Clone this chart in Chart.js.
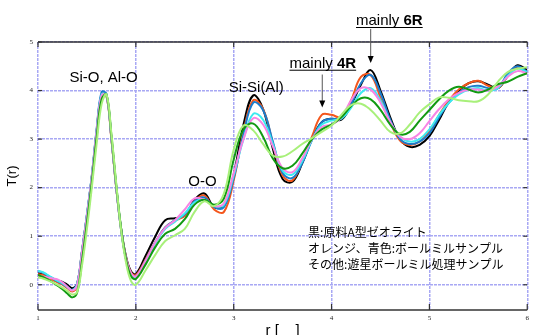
<!DOCTYPE html>
<html>
<head>
<meta charset="utf-8">
<script src="https://cdn.jsdelivr.net/npm/chart.js@4.4.0/dist/chart.umd.min.js"></script>
<style>
html, body { margin: 0; padding: 0; background: #fff; }
</style>
</head>
<body>
<canvas id="myChart" width="533" height="335"></canvas>
<script>
// r values (fine step around the first peak)
const r = [1.00,1.05,1.10,1.15,1.20,1.25,1.30,1.35,1.40,1.45,1.50,1.55,1.60,1.65,1.70,1.75,1.80,1.85,1.90,1.95,2.00,
  2.1,2.2,2.3,2.4,2.5,2.6,2.7,2.8,2.9,3.0,
  3.1,3.2,3.3,3.4,3.5,3.6,3.7,3.8,3.9,4.0,
  4.1,4.2,4.3,4.4,4.5,4.6,4.7,4.8,4.9,5.0,
  5.1,5.2,5.3,5.4,5.5,5.6,5.7,5.8,5.9,6.0];

const tBlack = [0.24,0.21,0.16,0.12,0.09,0.06,0.00,-0.07,0.02,0.70,1.43,2.22,3.18,3.92,3.90,3.02,2.00,1.15,0.58,0.28,0.22,
  0.60,1.00,1.33,1.37,1.42,1.75,1.88,1.60,1.63,2.27,
  3.30,3.90,3.62,2.80,2.18,2.12,2.50,3.00,3.35,3.42,
  3.40,3.70,4.12,4.42,4.00,3.45,3.00,2.84,2.88,3.06,
  3.40,3.77,4.00,4.15,4.19,4.12,4.05,4.30,4.52,4.42];
const tOrange = [0.22,0.20,0.15,0.10,0.05,0.00,-0.07,-0.14,-0.02,0.66,1.40,2.22,3.16,3.90,3.88,3.00,1.98,1.12,0.55,0.25,0.20,
  0.52,0.88,1.18,1.32,1.42,1.72,1.84,1.55,1.50,2.15,
  3.15,3.80,3.62,2.92,2.25,2.15,2.55,3.05,3.50,3.50,
  3.45,3.80,4.28,4.32,3.85,3.35,2.97,2.88,2.95,3.16,
  3.50,3.80,4.02,4.15,4.20,4.10,4.05,4.30,4.48,4.35];
const tBlue = [0.28,0.25,0.19,0.13,0.07,0.02,-0.05,-0.10,0.02,0.70,1.45,2.25,3.22,3.97,3.93,3.03,2.00,1.12,0.52,0.22,0.17,
  0.50,0.88,1.18,1.33,1.45,1.72,1.80,1.60,1.60,2.20,
  3.10,3.75,3.60,2.95,2.30,2.20,2.50,2.98,3.35,3.42,
  3.42,3.72,4.15,4.32,3.95,3.40,3.00,2.90,2.95,3.12,
  3.45,3.75,3.95,4.07,4.10,4.05,4.05,4.35,4.50,4.38];
const tCyan = [0.29,0.26,0.20,0.14,0.08,0.03,-0.05,-0.11,0.01,0.68,1.44,2.25,3.20,3.92,3.90,3.03,2.00,1.12,0.52,0.22,0.15,
  0.47,0.85,1.15,1.30,1.47,1.70,1.75,1.62,1.65,2.25,
  3.00,3.52,3.40,2.90,2.35,2.27,2.55,2.98,3.30,3.38,
  3.42,3.65,3.95,4.05,3.80,3.35,3.05,2.95,3.00,3.20,
  3.50,3.75,3.92,4.02,4.05,4.00,4.05,4.30,4.45,4.38];
const tPink = [0.18,0.17,0.15,0.13,0.11,0.05,-0.04,-0.12,0.00,0.68,1.42,2.23,3.18,3.90,3.90,3.03,2.00,1.12,0.55,0.25,0.17,
  0.50,0.88,1.17,1.33,1.55,1.78,1.75,1.62,1.68,2.30,
  3.00,3.43,3.30,2.85,2.40,2.32,2.60,3.00,3.25,3.30,
  3.45,3.80,4.05,4.02,3.75,3.35,3.05,3.00,3.12,3.37,
  3.62,3.82,3.95,4.02,4.02,4.00,4.08,4.28,4.40,4.35];
const tGreen = [0.20,0.16,0.11,0.05,-0.02,-0.09,-0.18,-0.26,-0.16,0.50,1.28,2.12,3.05,3.82,3.92,3.08,2.05,1.15,0.52,0.18,0.12,
  0.42,0.78,1.05,1.15,1.35,1.65,1.75,1.65,1.78,2.58,
  3.20,3.32,3.05,2.60,2.40,2.45,2.70,3.00,3.20,3.30,
  3.45,3.68,3.84,3.82,3.60,3.30,3.10,3.15,3.38,3.60,
  3.82,4.00,4.08,4.02,3.96,4.02,4.13,4.18,4.28,4.36];
const tLight = [0.15,0.13,0.09,0.05,0.00,-0.06,-0.13,-0.20,-0.15,0.40,1.15,2.00,2.92,3.72,3.92,3.12,2.08,1.12,0.45,0.08,0.00,
  0.30,0.62,0.90,1.02,1.15,1.50,1.72,1.62,1.88,2.78,
  3.28,3.18,2.90,2.66,2.64,2.75,2.90,3.02,3.15,3.28,
  3.50,3.70,3.73,3.60,3.38,3.15,3.12,3.30,3.55,3.72,
  3.86,3.85,3.80,3.78,3.78,3.92,4.18,4.38,4.45,4.48];

const xTicks = [1, 2, 3, 4, 5, 6];
const yTicks = [0, 1, 2, 3, 4, 5];

const series = [
  { data: tBlack, color: '#000000' },
  { data: tOrange, color: '#f4561c' },
  { data: tBlue, color: '#1c7ccc' },
  { data: tCyan, color: '#3ceaf0' },
  { data: tPink, color: '#f884e4' },
  { data: tGreen, color: '#129a12' },
  { data: tLight, color: '#a8f07a' }
];

const gridColor = '#a8a8f4';

const overlay = {
  id: 'overlay',
  afterDraw(chart) {
    const { ctx, chartArea: a, scales: { x, y } } = chart;
    const line = (x1, y1, x2, y2) => { ctx.beginPath(); ctx.moveTo(x1, y1); ctx.lineTo(x2, y2); ctx.stroke(); };
    ctx.save();
    // frame top / bottom
    ctx.strokeStyle = '#333';
    ctx.lineWidth = 1.5;
    line(a.left, a.top, a.right, a.top);
    line(a.left, a.bottom, a.right, a.bottom);
    // inward ticks
    ctx.lineWidth = 1.2;
    xTicks.forEach(v => {
      const p = x.getPixelForValue(v);
      line(p, a.top, p, a.top + 5);
      line(p, a.bottom, p, a.bottom - 6);
    });
    yTicks.forEach(v => {
      const p = y.getPixelForValue(v);
      line(a.left, p, a.left + 4, p);
      line(a.right, p, a.right - 4, p);
    });

    // peak labels
    ctx.fillStyle = '#000';
    ctx.font = '15px "Liberation Sans", Arial, sans-serif';
    ctx.textAlign = 'center';
    ctx.textBaseline = 'alphabetic';
    [['Si-O, Al-O', 1.67, 4.18], ['O-O', 2.68, 2.03], ['Si-Si(Al)', 3.23, 3.98]].forEach(([t, vx, vy]) => {
      ctx.fillText(t, x.getPixelForValue(vx), y.getPixelForValue(vy));
    });

    // "mainly nR" labels with underline and arrow
    const mainly = (ring, vx, vy, ax, ay1, ay2) => {
      const px = x.getPixelForValue(vx), py = y.getPixelForValue(vy);
      ctx.textAlign = 'left';
      ctx.font = '15px "Liberation Sans", Arial, sans-serif';
      const w1 = ctx.measureText('mainly ').width;
      ctx.fillText('mainly ', px, py);
      ctx.font = 'bold 15px "Liberation Sans", Arial, sans-serif';
      const w2 = ctx.measureText(ring).width;
      ctx.fillText(ring, px + w1, py);
      ctx.strokeStyle = '#000';
      ctx.lineWidth = 1;
      line(px, py + 2.5, px + w1 + w2, py + 2.5);
      const qx = x.getPixelForValue(ax), q1 = y.getPixelForValue(ay1), q2 = y.getPixelForValue(ay2);
      ctx.strokeStyle = '#555';
      line(qx, q1, qx, q2 - 5);
      ctx.fillStyle = '#000';
      ctx.beginPath();
      ctx.moveTo(qx, q2); ctx.lineTo(qx - 3, q2 - 7); ctx.lineTo(qx + 3, q2 - 7); ctx.closePath(); ctx.fill();
    };
    mainly('4R', 3.57, 4.47, 3.905, 4.33, 3.65);
    mainly('6R', 4.25, 5.35, 4.40, 5.27, 4.57);

    // legend note
    ctx.fillStyle = '#000';
    ctx.textAlign = 'left';
    ctx.textBaseline = 'middle';
    ctx.font = '12px "Noto Sans CJK JP", sans-serif';
    const nx = x.getPixelForValue(3.76);
    ctx.fillText('黒:原料A型ゼオライト', nx, y.getPixelForValue(1.07));
    ctx.fillText('オレンジ、青色:ボールミルサンプル', nx, y.getPixelForValue(0.74));
    ctx.fillText('その他:遊星ボールミル処理サンプル', nx, y.getPixelForValue(0.42));
    ctx.restore();
  }
};

new Chart(document.getElementById('myChart'), {
  type: 'line',
  data: {
    datasets: series.map((s, i) => ({
      data: s.data.map((v, k) => ({ x: r[k], y: v })),
      borderColor: s.color,
      borderWidth: 2,
      pointRadius: 0,
      tension: 0.4,
      fill: false,
      order: series.length - i
    }))
  },
  options: {
    responsive: false,
    animation: false,
    layout: { padding: { top: 42, right: 2, left: 0, bottom: 0 } },
    plugins: { legend: { display: false }, tooltip: { enabled: false } },
    scales: {
      x: {
        type: 'linear',
        min: 1, max: 6,
        afterBuildTicks: s => { s.ticks = xTicks.map(v => ({ value: v })); },
        afterFit: s => { s.height = 25; },
        ticks: { font: { family: '"Liberation Serif", serif', size: 7 }, color: '#222', padding: 4, maxRotation: 0 },
        grid: { color: gridColor, lineWidth: 1.5, drawTicks: false },
        border: { display: false, dash: [3, 1] },
        title: { display: true, text: 'r [    ]', font: { family: '"Liberation Sans", Arial, sans-serif', size: 15 }, color: '#000', padding: { top: 0, bottom: -5 } }
      },
      y: {
        min: -0.52, max: 5,
        afterBuildTicks: s => { s.ticks = yTicks.map(v => ({ value: v })); },
        afterFit: s => { s.width = 38; },
        ticks: { font: { family: '"Liberation Serif", serif', size: 7 }, color: '#222', padding: 5 },
        grid: { color: gridColor, lineWidth: 1.5, drawTicks: false },
        border: { display: false, dash: [3, 1] },
        title: { display: true, text: 'T(r)', font: { family: '"Liberation Sans", Arial, sans-serif', size: 13 }, color: '#000', padding: { top: 5, bottom: 0 } }
      }
    }
  },
  plugins: [overlay]
});
</script>
</body>
</html>
